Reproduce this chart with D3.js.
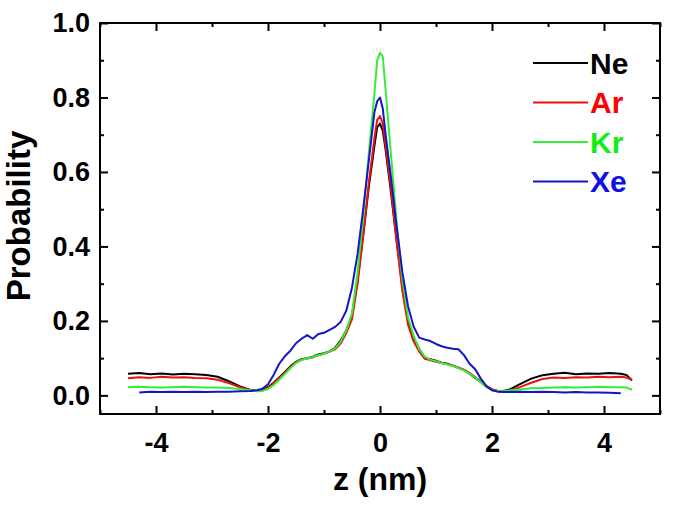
<!DOCTYPE html>
<html>
<head>
<meta charset="utf-8">
<script src="https://cdn.jsdelivr.net/npm/d3@7"></script>
<style>
  body { margin: 0; background: #fff; }
  text { font-family: "Liberation Sans", Arial, sans-serif; font-weight: bold; }
</style>
</head>
<body>
<svg width="675" height="507"></svg>
<script>
// z grid shared by all four series (nm)
var zValues = [-4.5, -4.3, -4.1, -3.9, -3.7, -3.5, -3.3, -3.1, -2.9, -2.7, -2.5, -2.3,
  -2.2, -2.1, -2.0, -1.9, -1.8, -1.7, -1.6, -1.5, -1.4, -1.3, -1.2, -1.1, -1.0,
  -0.9, -0.8, -0.7, -0.6, -0.5, -0.4, -0.3, -0.2, -0.1, -0.05, 0, 0.05, 0.1,
  0.2, 0.3, 0.4, 0.5, 0.6, 0.7, 0.8, 0.9, 1.0, 1.1, 1.2, 1.3, 1.4, 1.5, 1.6,
  1.7, 1.8, 1.9, 2.0, 2.1, 2.2, 2.3, 2.5, 2.7, 2.9, 3.1, 3.3, 3.5, 3.7, 3.9,
  4.1, 4.3, 4.4, 4.5];

var ne = [0.058, 0.060, 0.057, 0.059, 0.056, 0.058, 0.057, 0.055, 0.050, 0.038, 0.024, 0.014,
  0.012, 0.014, 0.022, 0.034, 0.048, 0.062, 0.078, 0.090, 0.097, 0.100, 0.104, 0.110, 0.113,
  0.118, 0.128, 0.148, 0.175, 0.215, 0.31, 0.43, 0.56, 0.67, 0.72, 0.73, 0.71, 0.66,
  0.54, 0.41, 0.29, 0.20, 0.155, 0.125, 0.100, 0.097, 0.093, 0.088, 0.085, 0.080, 0.074, 0.068, 0.058,
  0.047, 0.036, 0.024, 0.016, 0.012, 0.012, 0.015, 0.030, 0.045, 0.054, 0.058, 0.061, 0.057, 0.059, 0.058,
  0.060, 0.058, 0.055, 0.040];

var ar = [0.046, 0.049, 0.047, 0.050, 0.048, 0.049, 0.047, 0.046, 0.042, 0.033, 0.022, 0.014,
  0.012, 0.013, 0.020, 0.032, 0.046, 0.060, 0.076, 0.089, 0.096, 0.099, 0.102, 0.108, 0.112,
  0.118, 0.124, 0.140, 0.168, 0.205, 0.30, 0.43, 0.57, 0.69, 0.74, 0.75, 0.73, 0.67,
  0.55, 0.41, 0.28, 0.19, 0.145, 0.118, 0.098, 0.094, 0.090, 0.087, 0.084, 0.080, 0.075, 0.069, 0.060,
  0.049, 0.037, 0.025, 0.016, 0.012, 0.011, 0.012, 0.022, 0.034, 0.044, 0.048, 0.047, 0.049, 0.048, 0.050,
  0.049, 0.050, 0.048, 0.042];

var kr = [0.022, 0.023, 0.022, 0.021, 0.022, 0.023, 0.022, 0.021, 0.021, 0.020, 0.017, 0.013,
  0.011, 0.012, 0.017, 0.028, 0.042, 0.057, 0.073, 0.087, 0.095, 0.099, 0.103, 0.108, 0.112,
  0.118, 0.126, 0.145, 0.175, 0.22, 0.33, 0.48, 0.65, 0.81, 0.90, 0.92, 0.91, 0.82,
  0.64, 0.46, 0.31, 0.21, 0.16, 0.125, 0.104, 0.096, 0.092, 0.087, 0.083, 0.079, 0.074, 0.067, 0.058,
  0.048, 0.035, 0.022, 0.014, 0.011, 0.011, 0.013, 0.016, 0.019, 0.020, 0.021, 0.022, 0.021, 0.022, 0.023,
  0.022, 0.022, 0.021, 0.015];

var xe = [null, 0.008, 0.010, 0.009, 0.010, 0.009, 0.010, 0.009, 0.010, 0.010, 0.011, 0.012,
  0.014, 0.018, 0.030, 0.055, 0.085, 0.105, 0.120, 0.140, 0.152, 0.162, 0.152, 0.165, 0.168,
  0.176, 0.184, 0.198, 0.228, 0.29, 0.38, 0.50, 0.63, 0.76, 0.79, 0.80, 0.77, 0.70,
  0.58, 0.45, 0.33, 0.24, 0.185, 0.155, 0.150, 0.146, 0.138, 0.132, 0.128, 0.125, 0.124, 0.108, 0.085,
  0.070, 0.045, 0.025, 0.014, 0.010, 0.009, 0.009, 0.010, 0.009, 0.010, 0.009, 0.008, 0.009, 0.008, 0.008,
  0.007, 0.006, null, null];

var names = ["Ne", "Ar", "Kr", "Xe"];
var lineColors = ["#000000", "#ee1111", "#33ee33", "#1515c8"];
var textColors = ["#000000", "#ff0000", "#11ee11", "#1010e8"];
var seriesValues = [ne, ar, kr, xe];

var xTicks = [-4, -2, 0, 2, 4];
var yTicks = [0, 0.2, 0.4, 0.6, 0.8, 1.0];

var svg = d3.select("svg"),
    mLeft = 100, mRight = 660, mTop = 23, mBottom = 414;

var x = d3.scaleLinear().domain([-5, 5]).range([mLeft, mRight]);
var y = d3.scaleLinear().domain([-0.05, 1.0]).range([mBottom, mTop]);

var series = names.map(function(n, i) {
  return {
    name: n,
    color: lineColors[i],
    points: zValues.map(function(z, j) { return {z: z, p: seriesValues[i][j]}; })
  };
});

var line = d3.line()
    .defined(function(d) { return d.p != null; })
    .x(function(d) { return x(d.z); })
    .y(function(d) { return y(d.p); });

svg.append("g")
  .selectAll("path")
  .data(series)
  .enter().append("path")
    .attr("fill", "none")
    .attr("stroke", function(d) { return d.color; })
    .attr("stroke-width", 2)
    .attr("stroke-linejoin", "round")
    .attr("d", function(d) { return line(d.points); });

// axes, all ticks pointing inward
var xMinor = [-5, -3, -1, 1, 3, 5];
var yMinor = [0.1, 0.3, 0.5, 0.7, 0.9];

function style(g) {
  g.select(".domain").remove();
  g.selectAll(".tick line").attr("stroke", "#000").attr("stroke-width", 2);
}

function labelStyle(sel) {
  sel.attr("font-size", 27).attr("fill", "#000")
    .style("font-family", "'Liberation Sans', Arial, sans-serif").style("font-weight", "bold");
}

var hyphenInt = function(d) { return String(d); };

svg.append("g").attr("transform", "translate(0," + mBottom + ")")
  .call(d3.axisBottom(x).tickValues(xTicks).tickSize(-8).tickPadding(19).tickFormat(hyphenInt))
  .call(style)
  .selectAll("text").call(labelStyle);

svg.append("g").attr("transform", "translate(0," + mBottom + ")")
  .call(d3.axisBottom(x).tickValues(xMinor).tickSize(-4).tickFormat(""))
  .call(style);

svg.append("g").attr("transform", "translate(0," + mTop + ")")
  .call(d3.axisTop(x).tickValues(xTicks).tickSize(-8).tickFormat(""))
  .call(style);
svg.append("g").attr("transform", "translate(0," + mTop + ")")
  .call(d3.axisTop(x).tickValues(xMinor).tickSize(-4).tickFormat(""))
  .call(style);

svg.append("g").attr("transform", "translate(" + mLeft + ",0)")
  .call(d3.axisLeft(y).tickValues(yTicks).tickSize(-8).tickPadding(10).tickFormat(d3.format(".1f")))
  .call(style)
  .selectAll("text").call(labelStyle);
svg.append("g").attr("transform", "translate(" + mLeft + ",0)")
  .call(d3.axisLeft(y).tickValues(yMinor).tickSize(-4).tickFormat(""))
  .call(style);

svg.append("g").attr("transform", "translate(" + mRight + ",0)")
  .call(d3.axisRight(y).tickValues(yTicks).tickSize(-8).tickFormat(""))
  .call(style);
svg.append("g").attr("transform", "translate(" + mRight + ",0)")
  .call(d3.axisRight(y).tickValues(yMinor).tickSize(-4).tickFormat(""))
  .call(style);

svg.append("rect")
  .attr("x", mLeft).attr("y", mTop)
  .attr("width", mRight - mLeft).attr("height", mBottom - mTop)
  .attr("fill", "none").attr("stroke", "#000").attr("stroke-width", 2);

// axis titles
svg.append("text")
  .attr("x", (mLeft + mRight) / 2).attr("y", 490)
  .attr("text-anchor", "middle")
  .attr("font-size", 32)
  .text("z (nm)");

svg.append("text")
  .attr("transform", "translate(30,216) rotate(-90)")
  .attr("text-anchor", "middle")
  .attr("font-size", 33)
  .text("Probability");

// legend
var legend = svg.append("g")
  .selectAll("g")
  .data(series)
  .enter().append("g")
    .attr("transform", function(d, i) { return "translate(533," + (63 + i * 39.5) + ")"; });

legend.append("line")
  .attr("x1", 0).attr("x2", 55)
  .attr("stroke", function(d) { return d.color; })
  .attr("stroke-width", 2);

legend.append("text")
  .attr("x", 57)
  .attr("dy", "0.36em")
  .attr("font-size", 30)
  .attr("fill", function(d, i) { return textColors[i]; })
  .text(function(d) { return d.name; });
</script>
</body>
</html>
